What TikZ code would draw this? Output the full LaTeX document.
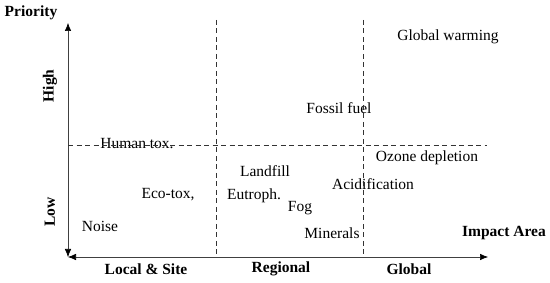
\documentclass[tikz,border=0pt]{standalone}
\usepackage{fontspec}
\setmainfont{Liberation Serif}
\usetikzlibrary{
  arrows.meta,
  positioning}

\tikzset{
  item/.style={
    inner sep=0pt,
    font=\fontsize{15.5}{18}\selectfont
  },
  axlabel/.style={
    inner sep=0pt,
    font=\fontsize{15.5}{18}\selectfont\bfseries
  },
  axisline/.style={
    black!75,
    line width=0.6pt,
    {Latex[length=8pt,width=6.5pt,black]}-{Latex[length=8pt,width=6.5pt,black]}
  },
  split/.style={
    black!80,
    line width=0.7pt,
    dash pattern=on 5pt off 3.5pt
  }
}

\begin{document}
\begin{tikzpicture}[x=1pt,y=-1pt]%
  \useasboundingbox (0,0) rectangle (550,283);

  % Axes
  \coordinate (origin) at (68,257);
  \coordinate (ytop) at (68,23);
  \coordinate (xend) at (488,257);

  \draw[axisline] (ytop) -- (origin);
  \draw[axisline] (origin) -- (xend);

  \node[axlabel] (priority) at (31,13) {Priority};
  \node[axlabel, rotate=90] (high) at (50,86) {High};
  \node[axlabel, rotate=90] (low) at (50,212) {Low};

  \node[axlabel] (impact) at (504,233) {Impact Area};
  \node[axlabel] (local) at (146,269) {Local \& Site};
  \node[axlabel] (regional) at (281,269) {Regional};
  \node[axlabel] (global) at (409,269) {Global};

  % Impacts
  \node[item] (globwarm) at (448,37) {Global warming};
  \node[item] (fossil) at (339,108) {Fossil fuel};
  \node[item] (humantox) at (137,144) {Human tox.};
  \node[item] (ozone) at (427,158) {Ozone depletion};
  \node[item] (landfill) at (265,171) {Landfill};
  \node[item] (acid) at (373,184) {Acidification};
  \node[item] (ecotox) at (168,195) {Eco-tox,};
  \node[item] (eutroph) at (254,196) {Eutroph.};
  \node[item] (fog) at (300,208) {Fog};
  \node[item] (noise) at (100,226) {Noise};
  \node[item] (minerals) at (332,233) {Minerals};

  % Dividers
  \coordinate (v1top) at (216,20);
  \coordinate (v1bot) at (216,257);
  \coordinate (v2top) at (363,20);
  \coordinate (v2bot) at (363,257);
  \coordinate (hleft) at (68,145);
  \coordinate (hright) at (487,145);

  \draw[split] (v1top) -- (v1bot);
  \draw[split] (v2top) -- (v2bot);
  \draw[split] (hleft) -- (hright);

\end{tikzpicture}
\end{document}
